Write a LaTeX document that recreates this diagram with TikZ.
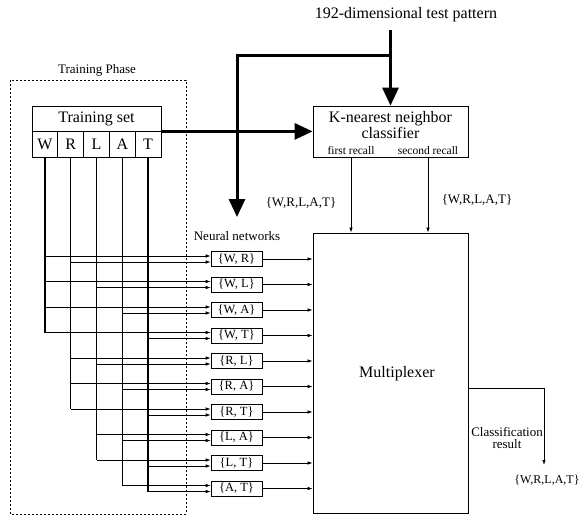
\documentclass[tikz,border=0pt]{standalone}
\usepackage{fontspec}
\setmainfont{Liberation Serif}
\usetikzlibrary{arrows.meta, positioning}

\begin{document}
\begin{tikzpicture}[
        x=1pt, y=-1pt,
        box/.style={draw, line width=0.8pt, inner sep=0pt},
        cell/.style={box, minimum width=25.8pt, minimum height=26pt, font=\fontsize{16}{16}\selectfont},
        pairbox/.style={box, line width=0.6pt, minimum width=51pt, minimum height=15pt, font=\fontsize{12.5}{12.5}\selectfont},
        big/.style={font=\fontsize{16}{16}\selectfont},
        small/.style={font=\fontsize{13}{12}\selectfont},
        tiny/.style={font=\fontsize{11.5}{11}\selectfont},
        heavy/.style={line width=3pt, -{Triangle[width=16pt,length=18pt]}},
        feed/.style={line width=0.7pt, -{Latex[length=5pt,width=3.5pt]}},
        trunk/.style={line width=1.4pt},
        phase/.style={line width=0.6pt, dash pattern=on 2pt off 2pt},
        >=Stealth
    ]
    \useasboundingbox (0,0) rectangle (582,515);

    % training phase
    \draw[phase] (10,80) rectangle (186,514);
    \node[small] (phaselabel) at (97,70) {Training Phase};
    \node[box, minimum width=129pt, minimum height=25pt, big] (tset) at (96.5,118.5) {Training set};
    \foreach \c [count=\i] in {W,R,L,A,T}
        \node[cell] (c\c) at ({32+12.9+(\i-1)*25.8},144) {\c};

    % neural networks
    \node[small] (nnlabel) at (237,236) {Neural networks};
    \foreach \a/\b [count=\i] in {W/R,W/L,W/A,W/T,R/L,R/A,R/T,L/A,L/T,A/T} {
        \node[pairbox] (n\a\b) at (236.5,{259+(\i-1)*25.5}) {\{\a, \b\}};
        \draw[feed] ([yshift=3pt]n\a\b.west -| c\a) -- ([yshift=3pt]n\a\b.west);
        \draw[feed] ([yshift=-3pt]n\a\b.west -| c\b) -- ([yshift=-3pt]n\a\b.west);
    }
    \draw[trunk] (cW.south) -- ([yshift=3pt]nWT.west -| cW.south);
    \draw[trunk] (cR.south) -- ([yshift=3pt]nRT.west -| cR.south);
    \draw[trunk] (cL.south) -- ([yshift=3pt]nLT.west -| cL.south);
    \draw[trunk] (cA.south) -- ([yshift=3pt]nAT.west -| cA.south);
    \draw[trunk] (cT.south) -- ([yshift=-3pt]nAT.west -| cT.south);

    % classifier and multiplexer
    \node[box, minimum width=155pt, minimum height=51pt] (knn) at (390.5,131.5) {};
    \node[big, align=center] (knntxt) at (390.5,125) {K-nearest neighbor\\classifier};
    \node[tiny] (r1) at (351,151) {first recall};
    \node[tiny] (r2) at (428,151) {second recall};
    \node[box, minimum width=155pt, minimum height=280pt] (mux) at (390.5,373) {};
    \node[big] (muxtxt) at (397,374) {Multiplexer};

    \node[small] (set1) at (301,203) {\{W,R,L,A,T\}};
    \node[small] (set2) at (477,200) {\{W,R,L,A,T\}};
    \draw[feed] (r1 |- knn.south) -- (r1 |- mux.north);
    \draw[feed] (r2 |- knn.south) -- (r2 |- mux.north);

    \foreach \a/\b in {W/R,W/L,W/A,W/T,R/L,R/A,R/T,L/A,L/T,A/T}
        \draw[feed] (n\a\b.east) -- (n\a\b.east -| mux.west);

    % test pattern
    \node[big] (test) at (406,15) {192-dimensional test pattern};
    \coordinate (src) at (knn.north |- 0,30);
    \coordinate (split) at (knn.north |- 0,55);
    \coordinate (nnin) at (237,217);
    \draw[heavy] (src) -- (knn.north);
    \draw[heavy] (split) -| (nnin);
    \draw[heavy] (tset.south east) -- (tset.south east -| knn.west);

    % result
    \coordinate (res) at (544,465);
    \draw[feed] (mux.east |- 0,388) -| (res);
    \node[small, align=center] (clab) at (507,438) {Classification\\result};
    \node[font=\fontsize{12}{12}\selectfont] (set3) at (547,480) {\{W,R,L,A,T\}};
\end{tikzpicture}
\end{document}
